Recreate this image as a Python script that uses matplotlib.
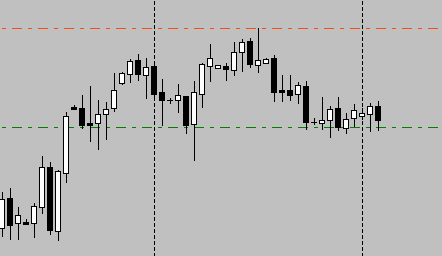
import matplotlib
matplotlib.use("Agg")
import matplotlib.pyplot as plt
import numpy as np

# candle prices (chart units), one entry per bar
opens = [29, 59, 34, 35, 34, 50, 90, 26, 84, 150, 149, 134, 134, 143, 149, 174,
         183, 197, 182, 191, 165, 157, 157, 161, 133, 163, 191, 189, 191, 187, 205, 216,
         192, 194, 199, 167, 167, 163, 171, 135, 134, 137, 149, 129, 139, 141, 143, 151]
highs = [65, 69, 50, 38, 54, 101, 95, 87, 145, 152, 162, 171, 157, 155, 184, 185,
         198, 203, 199, 192, 178, 159, 173, 161, 176, 194, 213, 192, 194, 215, 218, 219,
         229, 199, 202, 182, 182, 175, 176, 139, 160, 151, 160, 144, 153, 149, 154, 156]
lows = [21, 18, 18, 33, 20, 44, 23, 17, 75, 148, 129, 116, 108, 118, 146, 173,
        175, 177, 159, 159, 132, 154, 145, 124, 97, 150, 176, 189, 177, 182, 186, 190,
        185, 194, 156, 156, 157, 154, 128, 133, 128, 120, 127, 124, 131, 138, 126, 127]
closes = [58, 32, 42, 33, 51, 90, 27, 86, 141, 148, 132, 132, 143, 148, 167, 184,
          196, 183, 190, 163, 157, 157, 162, 132, 165, 193, 199, 192, 188, 205, 215, 193,
          197, 198, 165, 165, 162, 172, 135, 135, 137, 148, 130, 138, 147, 144, 151, 137]

resistance = 229
support = 130
session_marks = [19, 45]

bg = "#c0c0c0"
fig = plt.figure(figsize=(442 / 72, 256 / 72), dpi=72, facecolor=bg)
ax = fig.add_axes([0, 0, 1, 1])
ax.set_facecolor(bg)
ax.set_xlim(-1.5 / 8, 440.5 / 8)
ax.set_ylim(0.5, 256.5)
ax.axis("off")

o = np.array(opens)
h = np.array(highs)
l = np.array(lows)
c = np.array(closes)
x = np.arange(len(o))

for xv in session_marks:
    ax.axvline(xv, color="black", lw=1, linestyle=(0, (3, 2)),
               antialiased=False, zorder=1)

dashdot = (14, (9, 6, 3, 6))
ax.axhline(resistance, color="#f0501e", lw=1, linestyle=dashdot,
           antialiased=False, zorder=1)
ax.axhline(support, color="#008000", lw=1, linestyle=dashdot,
           antialiased=False, zorder=1)

ax.vlines(x, l, h, color="black", lw=1, antialiased=False, zorder=2)

bottom = np.minimum(o, c)
height = np.abs(c - o)
colors = np.where(c > o, "white", "black")
body = height > 0
ax.bar(x[body], height[body], bottom=bottom[body], width=0.55,
       color=colors[body], edgecolor="black", linewidth=1,
       antialiased=False, zorder=3)
flat = ~body
ax.hlines(o[flat], x[flat] - 0.3, x[flat] + 0.3, color="black", lw=1,
          antialiased=False, zorder=3)

fig.savefig("out.png", dpi=72, facecolor=bg)
